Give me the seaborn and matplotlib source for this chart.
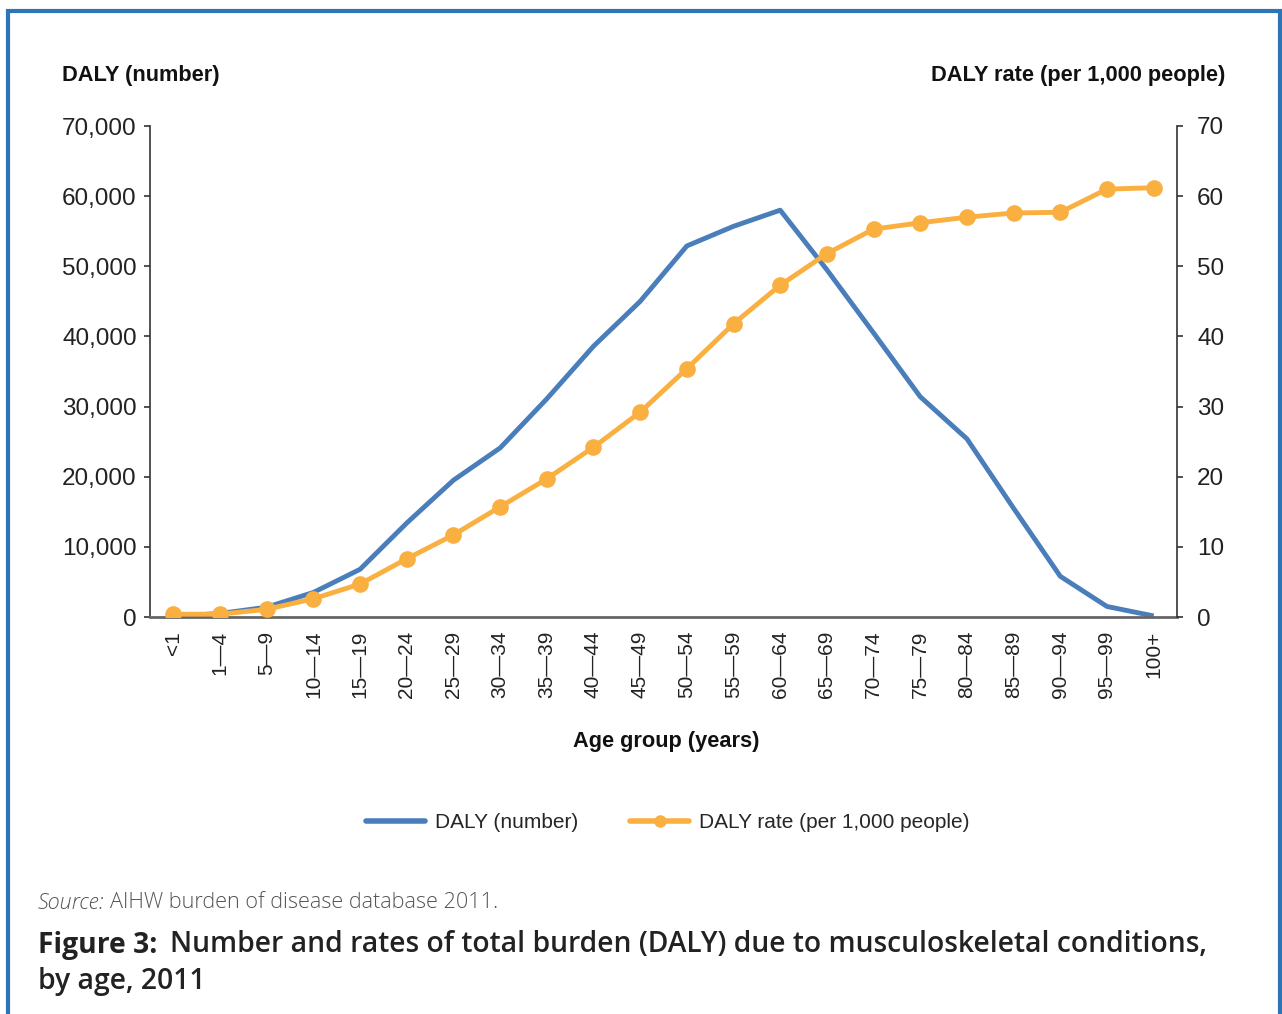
import numpy as np
import pandas as pd
import matplotlib.pyplot as plt
import seaborn as sns
from matplotlib.patches import Rectangle
from matplotlib.lines import Line2D

# data
age_groups = ['<1', '1—4', '5—9', '10—14', '15—19', '20—24', '25—29', '30—34',
              '35—39', '40—44', '45—49', '50—54', '55—59', '60—64', '65—69',
              '70—74', '75—79', '80—84', '85—89', '90—94', '95—99', '100+']
daly_number = [100, 500, 1400, 3500, 6800, 13400, 19500, 24100, 31100, 38600,
               45000, 52900, 55700, 58000, 49500, 40500, 31400, 25400, 15500,
               5800, 1500, 150]
daly_rate = [0.4, 0.4, 1.1, 2.6, 4.7, 8.3, 11.7, 15.7, 19.7, 24.2, 29.2, 35.4,
             41.8, 47.3, 51.8, 55.3, 56.2, 57.0, 57.6, 57.7, 61.0, 61.2]

BLUE = '#4a7ebb'
ORANGE = '#f9b040'
W, H = 1282, 1014

sns.set_style('white')
plt.rcParams['font.family'] = ['Liberation Sans', 'DejaVu Sans']

df = pd.DataFrame({'pos': np.arange(len(age_groups)),
                   'number': daly_number, 'rate': daly_rate})

fig = plt.figure(figsize=(W / 100, H / 100), dpi=100)
ax = fig.add_axes([150 / W, 1 - 617 / H, (1177 - 150) / W, (617 - 126) / H])
ax2 = ax.twinx()

sns.lineplot(data=df, x='pos', y='number', ax=ax, color=BLUE, linewidth=3.5,
             solid_capstyle='butt')
sns.lineplot(data=df, x='pos', y='rate', ax=ax2, color=ORANGE, linewidth=3.5,
             marker='o', markersize=12, markeredgewidth=0)

ax.set_xlim(-0.5, len(age_groups) - 0.5)
ax.set_ylim(0, 70000)
ax2.set_ylim(0, 70)
ax.set_yticks(range(0, 70001, 10000))
ax.set_yticklabels([f'{v:,}' for v in range(0, 70001, 10000)], fontsize=17.5, color='#222222')
ax2.set_yticks(range(0, 71, 10))
ax2.set_yticklabels([str(v) for v in range(0, 71, 10)], fontsize=17.5, color='#222222')
ax.set_xticks(df['pos'])
ax.set_xticklabels(age_groups, rotation=90, fontsize=15, color='#222222')
ax.tick_params(axis='x', length=0, pad=10)
ax.tick_params(axis='y', length=4.5, width=1.2, color='#333333', direction='out', pad=5)
ax2.tick_params(axis='y', length=4.5, width=1.2, color='#333333', direction='out', pad=10)
ax.set_xlabel('')
ax.set_ylabel('')
ax2.set_ylabel('')

for a in (ax, ax2):
    a.spines['top'].set_visible(False)
    a.spines['left'].set_color('#333333')
    a.spines['right'].set_color('#333333')
    a.spines['left'].set_linewidth(1.2)
    a.spines['right'].set_linewidth(1.2)
    a.spines['bottom'].set_color('#666666')
    a.spines['bottom'].set_linewidth(2)
ax.spines['right'].set_visible(False)
ax2.spines['left'].set_visible(False)
ax2.spines['bottom'].set_visible(False)

# axis titles
fig.text(62 / W, 1 - 76 / H, 'DALY (number)', fontsize=15.7, fontweight='bold',
         va='center', ha='left', color='#111111')
fig.text(1225 / W, 1 - 76 / H, 'DALY rate (per 1,000 people)', fontsize=15.7,
         fontweight='bold', va='center', ha='right', color='#111111')
fig.text(666 / W, 1 - 741 / H, 'Age group (years)', fontsize=15.7,
         fontweight='bold', va='center', ha='center', color='#111111')

# legend
handles = [Line2D([], [], color=BLUE, linewidth=4),
           Line2D([], [], color=ORANGE, linewidth=4, marker='o', markersize=9,
                  markeredgewidth=0)]
ax.legend(handles, ['DALY (number)', 'DALY rate (per 1,000 people)'],
          loc='center', bbox_to_anchor=(668 / W, 1 - 823 / H),
          bbox_transform=fig.transFigure, ncol=2, frameon=False, fontsize=15,
          handlelength=2.8, columnspacing=2.5, handletextpad=0.5)

# source and caption
fig.text(38 / W, 1 - 903 / H, 'Source:', fontsize=15.6, style='italic',
         family='Open Sans', fontweight='light', color='#555555', va='center')
fig.text(110 / W, 1 - 903 / H, 'AIHW burden of disease database 2011.',
         fontsize=15.6, family='Open Sans', fontweight='light', color='#555555',
         va='center')
fig.text(38 / W, 1 - 945 / H, 'Figure 3:', fontsize=20.3, family='Open Sans',
         fontweight='bold', color='#222222', va='center')
fig.text(170 / W, 1 - 945 / H,
         'Number and rates of total burden (DALY) due to musculoskeletal conditions,',
         fontsize=20.3, family='Open Sans', fontweight='semibold', color='#222222',
         va='center')
fig.text(38 / W, 1 - 982 / H, 'by age, 2011', fontsize=20.3, family='Open Sans',
         fontweight='semibold', color='#222222', va='center')

# blue frame around the figure
fig.patches.append(Rectangle((8 / W, -0.05), (1280 - 8) / W, 1.05 - 11 / H,
                             transform=fig.transFigure, fill=False,
                             edgecolor='#2e75b6', linewidth=3, figure=fig))

fig.savefig('out.png', dpi=100)
